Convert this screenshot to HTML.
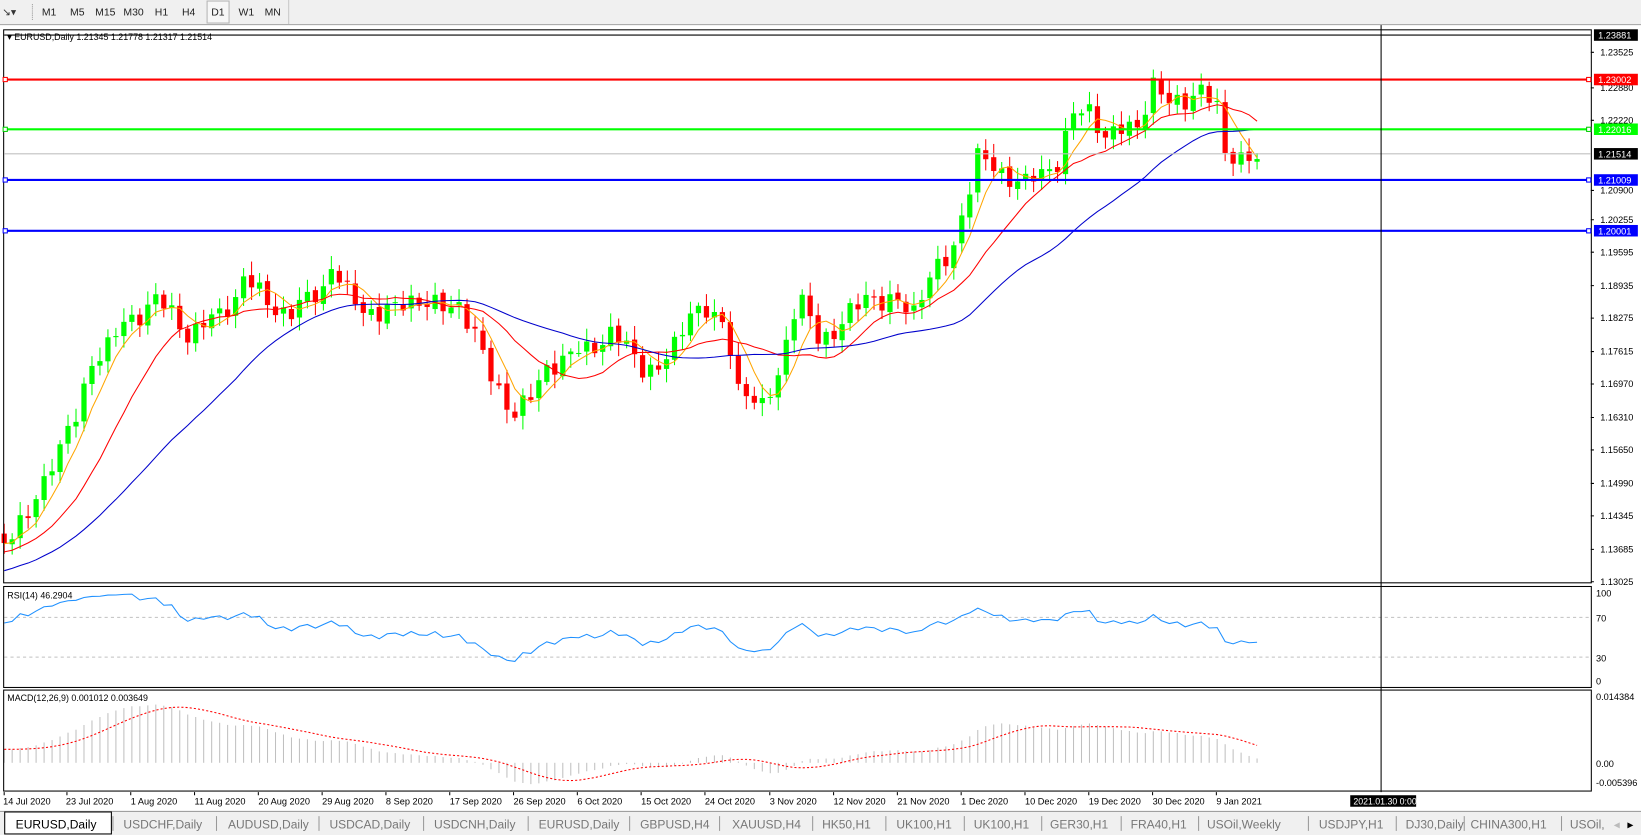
<!DOCTYPE html>
<html><head><meta charset="utf-8"><style>
html,body{margin:0;padding:0;background:#fff;overflow:hidden}
svg{display:block}
text{font-family:"Liberation Sans",sans-serif}
</style></head><body>
<svg id="s" width="1641" height="835" viewBox="0 0 1569 798" preserveAspectRatio="none" xmlns="http://www.w3.org/2000/svg">
<rect x="0" y="0" width="1569" height="798" fill="#fff"/>
<rect x="0" y="0" width="1569" height="23" fill="#f0f0f0"/>
<line x1="0" y1="23.5" x2="1569" y2="23.5" stroke="#a0a0a0"/>
<line x1="276" y1="0" x2="276" y2="23" stroke="#c8c8c8"/>
<text x="2" y="15" font-size="10" fill="#333">↘▾</text>
<line x1="31" y1="4" x2="31" y2="20" stroke="#999" stroke-dasharray="1,1"/>
<rect x="198" y="1" width="21" height="21" fill="#f7f7f7" stroke="#b5b5b5"/>
<g font-size="10" fill="#222">
<text x="40" y="15">M1</text><text x="67" y="15">M5</text><text x="91" y="15">M15</text><text x="118" y="15">M30</text>
<text x="148" y="15">H1</text><text x="174" y="15">H4</text><text x="202" y="15">D1</text><text x="228" y="15">W1</text><text x="253" y="15">MN</text>
</g>
<g id="g"></g>
<g fill="none" stroke="#000" stroke-width="1">
<rect x="3.5" y="28.5" width="1518" height="528.5"/>
<rect x="3.5" y="560.5" width="1518" height="96.5"/>
<rect x="3.5" y="659.5" width="1518" height="96.5"/>
</g>
<line x1="4" y1="147" x2="1521" y2="147" stroke="#c0c0c0" stroke-width="1"/>
<g stroke-width="2">
<line x1="4" y1="76" x2="1521" y2="76" stroke="#ff0000"/>
<line x1="4" y1="123.6" x2="1521" y2="123.6" stroke="#00ff00"/>
<line x1="4" y1="172" x2="1521" y2="172" stroke="#0000ff"/>
<line x1="4" y1="220.6" x2="1521" y2="220.6" stroke="#0000ff"/>
</g>
<g fill="#fff" stroke-width="1">
<rect x="3" y="74" width="4" height="4" stroke="#f00"/><rect x="1517" y="74" width="4" height="4" stroke="#f00"/>
<rect x="3" y="121.6" width="4" height="4" stroke="#0c0"/><rect x="1517" y="121.6" width="4" height="4" stroke="#0c0"/>
<rect x="3" y="170" width="4" height="4" stroke="#00f"/><rect x="1517" y="170" width="4" height="4" stroke="#00f"/>
<rect x="3" y="218.6" width="4" height="4" stroke="#00f"/><rect x="1517" y="218.6" width="4" height="4" stroke="#00f"/>
</g>
<line x1="4" y1="33.5" x2="1521" y2="33.5" stroke="#000"/>
<line x1="1320.5" y1="24" x2="1320.5" y2="757" stroke="#000"/>
<text x="7" y="38" font-size="8.5" fill="#000">▾ EURUSD,Daily  1.21345 1.21778 1.21317 1.21514</text>
<text x="7" y="572" font-size="8.5" fill="#000">RSI(14) 46.2904</text>
<text x="7" y="670" font-size="8.5" fill="#000">MACD(12,26,9) 0.001012 0.003649</text>
<g font-size="8.8" fill="#000">
<text x="1530" y="53">1.23525</text><text x="1530" y="87">1.22880</text><text x="1530" y="118">1.22220</text>
<text x="1530" y="185">1.20900</text><text x="1530" y="213">1.20255</text><text x="1530" y="244">1.19595</text>
<text x="1530" y="276">1.18935</text><text x="1530" y="307">1.18275</text><text x="1530" y="339">1.17615</text>
<text x="1530" y="370">1.16970</text><text x="1530" y="402">1.16310</text><text x="1530" y="433">1.15650</text>
<text x="1530" y="465">1.14990</text><text x="1530" y="496">1.14345</text><text x="1530" y="528">1.13685</text>
<text x="1530" y="559">1.13025</text>
<text x="1526" y="570">100</text><text x="1526" y="594">70</text><text x="1526" y="632">30</text><text x="1526" y="654">0</text>
<text x="1526" y="669">0.014384</text><text x="1526" y="733">0.00</text><text x="1526" y="751">-0.005396</text>
</g>
<g stroke="#000"><path d="M1521 50h3M1521 84h3M1521 115h3M1521 182h3M1521 210h3M1521 241h3M1521 273h3M1521 304h3M1521 336h3M1521 367h3M1521 399h3M1521 430h3M1521 462h3M1521 493h3M1521 525h3M1521 556h3"/></g>
<g font-size="8.8">
<rect x="1524" y="28" width="42" height="11" fill="#000"/><text x="1528" y="37" fill="#fff">1.23881</text>
<rect x="1524" y="70.5" width="42" height="11" fill="#ff0000"/><text x="1528" y="79.5" fill="#fff">1.23002</text>
<rect x="1524" y="118" width="42" height="11" fill="#00ff00"/><text x="1528" y="127" fill="#fff">1.22016</text>
<rect x="1524" y="141.5" width="42" height="11" fill="#000"/><text x="1528" y="150.5" fill="#fff">1.21514</text>
<rect x="1524" y="166.5" width="42" height="11" fill="#0000ff"/><text x="1528" y="175.5" fill="#fff">1.21009</text>
<rect x="1524" y="215" width="42" height="11" fill="#0000ff"/><text x="1528" y="224" fill="#fff">1.20001</text>
</g>
<g font-size="8.8" fill="#000">
<text x="3" y="769">14 Jul 2020</text><text x="63" y="769">23 Jul 2020</text><text x="125" y="769">1 Aug 2020</text>
<text x="186" y="769">11 Aug 2020</text><text x="247" y="769">20 Aug 2020</text><text x="308" y="769">29 Aug 2020</text>
<text x="369" y="769">8 Sep 2020</text><text x="430" y="769">17 Sep 2020</text><text x="491" y="769">26 Sep 2020</text>
<text x="552" y="769">6 Oct 2020</text><text x="613" y="769">15 Oct 2020</text><text x="674" y="769">24 Oct 2020</text>
<text x="736" y="769">3 Nov 2020</text><text x="797" y="769">12 Nov 2020</text><text x="858" y="769">21 Nov 2020</text>
<text x="919" y="769">1 Dec 2020</text><text x="980" y="769">10 Dec 2020</text><text x="1041" y="769">19 Dec 2020</text>
<text x="1102" y="769">30 Dec 2020</text><text x="1163" y="769">9 Jan 2021</text>
</g>
<g stroke="#000"><path d="M4 757v3M64 757v3M125 757v3M186 757v3M247 757v3M308 757v3M369 757v3M430 757v3M491 757v3M552 757v3M613 757v3M674 757v3M736 757v3M797 757v3M858 757v3M919 757v3M980 757v3M1041 757v3M1102 757v3M1163 757v3"/></g>
<rect x="1291" y="760" width="63" height="11" fill="#000"/><text x="1294" y="769" font-size="8.4" fill="#fff">2021.01.30 0:00</text>
<rect x="0" y="775" width="1569" height="23" fill="#f0f0f0"/>
<line x1="0" y1="775.5" x2="1569" y2="775.5" stroke="#a0a0a0"/>
<rect x="4.5" y="776" width="102" height="21" fill="#fff" stroke="#000"/>
<g font-size="11.5" fill="#777">
<text x="15" y="792" fill="#000">EURUSD,Daily</text>
<text x="118" y="792">USDCHF,Daily</text><text x="218" y="792">AUDUSD,Daily</text><text x="315" y="792">USDCAD,Daily</text>
<text x="415" y="792">USDCNH,Daily</text><text x="515" y="792">EURUSD,Daily</text><text x="612" y="792">GBPUSD,H4</text>
<text x="700" y="792">XAUUSD,H4</text><text x="786" y="792">HK50,H1</text><text x="857" y="792">UK100,H1</text>
<text x="931" y="792">UK100,H1</text><text x="1004" y="792">GER30,H1</text><text x="1081" y="792">FRA40,H1</text>
<text x="1154" y="792">USOil,Weekly</text><text x="1261" y="792">USDJPY,H1</text><text x="1344" y="792">DJ30,Daily</text>
<text x="1406" y="792">CHINA300,H1</text><text x="1501" y="792">USOil,</text><text x="1543" y="792" fill="#bbb">◂</text><text x="1556" y="792" fill="#000">▸</text>
</g>
<g stroke="#999"><path d="M108 780v14M207 780v14M305 780v14M405 780v14M505 780v14M602 780v14M688 780v14M777 780v14M847 780v14M922 780v14M996 780v14M1072 780v14M1146 780v14M1251 780v14M1335 780v14M1400 780v14M1493 780v14"/></g>
</svg>
<script>
(function(){
var NS="http://www.w3.org/2000/svg",g=document.getElementById("g");
function el(t,a){var e=document.createElementNS(NS,t);for(var k in a)e.setAttribute(k,a[k]);g.appendChild(e);return e;}
var kp=[[0,515],[3,495],[6,440],[9,400],[11,345],[13,330],[15,310],[17,300],[19,285],[21,300],[23,320],[25,310],[27,300],[29,285],[30,265],[32,280],[34,295],[36,300],[38,285],[40,275],[41,255],[43,280],[45,295],[47,300],[49,295],[51,285],[53,290],[55,295],[57,290],[59,320],[61,360],[63,385],[64,395],[66,380],[68,350],[70,345],[72,335],[74,330],[76,320],[78,330],[80,350],[82,355],[84,330],[86,295],[88,300],[90,310],[91,330],[92,370],[94,385],[95,390],[97,355],[99,300],[100,290],[102,320],[104,320],[106,300],[108,280],[110,290],[112,290],[114,295],[116,265],[118,250],[119,235],[120,205],[122,150],[124,160],[126,170],[128,175],[130,165],[132,155],[134,110],[136,105],[138,130],[140,125],[142,120],[144,80],[146,100],[148,95],[150,85],[152,105],[153,145],[155,150],[157,152]];
var N=158,PRE=60,cl=[];
for(var j=-PRE;j<0;j++){cl.push(640+(j+PRE)*(-125/PRE)+Math.sin(j*1.7)*6);}
for(var i=0;i<N;i++){var a,b;for(var k=0;k<kp.length-1;k++){if(kp[k][0]<=i&&kp[k+1][0]>=i){a=kp[k];b=kp[k+1];break;}}
var t=(b[0]==a[0])?0:(i-a[0])/(b[0]-a[0]);var y=a[1]+(b[1]-a[1])*t;
if(i<N-1)y+=Math.sin(i*2.3)*7+Math.cos(i*1.1)*4;cl.push(y);}
var T=cl.length;function X(i){return 4+7.63*(i-PRE);}
function P(y){return 1.13025+(555.5-y)/4808;}
for(var n=PRE;n<T;n++){var o=cl[n-1]+Math.sin(n*3.1)*2,c=cl[n];var h=Math.min(o,c)-(3+Math.abs(Math.sin(n*5.3))*10),l=Math.max(o,c)+(3+Math.abs(Math.cos(n*4.7))*10);
var x=X(n),bull=c<o,col=bull?"#00ff00":"#ff0000";
if(l>557)l=557;
el("line",{x1:x,y1:h,x2:x,y2:l,stroke:col,"stroke-width":1});
var top=Math.min(o,c),ht=Math.max(1,Math.abs(o-c));el("rect",{x:x-2.5,y:top,width:5,height:ht,fill:col});}
function sma(p){var r=[];for(var n=0;n<T;n++){if(n<p-1){r.push(null);continue;}var s=0;for(var k=0;k<p;k++)s+=cl[n-k];r.push(s/p);}return r;}
function line(arr,col,lo,hi,fn){var d="";for(var n=PRE;n<T;n++){if(arr[n]==null)continue;var y=fn?fn(arr[n]):arr[n];d+=(d?"L":"M")+X(n).toFixed(1)+" "+y.toFixed(1);}return d;}
[[5,"#ffa500"],[13,"#ff0000"],[30,"#0000cc"]].forEach(function(m){var d=line(sma(m[0]));
var e=el("path",{d:d,fill:"none",stroke:m[1],"stroke-width":1});e.setAttribute("clip-path","url(#cm)");});
var pr=cl.map(P),ag=0,al=0,rsi=[];
for(var n=1;n<T;n++){var ch=pr[n]-pr[n-1],gn=Math.max(ch,0),ls=Math.max(-ch,0);
if(n<=14){ag+=gn/14;al+=ls/14;}else{ag=(ag*13+gn)/14;al=(al*13+ls)/14;}
rsi[n]=al==0?100:100-100/(1+ag/al);}
el("line",{x1:4,y1:590,x2:1521,y2:590,stroke:"#c0c0c0","stroke-dasharray":"3,3"});
el("line",{x1:4,y1:628,x2:1521,y2:628,stroke:"#c0c0c0","stroke-dasharray":"3,3"});
el("path",{d:line(rsi,0,0,0,function(v){return 656.5-v*0.95;}),fill:"none",stroke:"#1e90ff","stroke-width":1});
function ema(arr,p){var r=[],k=2/(p+1);r[0]=arr[0];for(var n=1;n<arr.length;n++)r[n]=arr[n]*k+r[n-1]*(1-k);return r;}
var e12=ema(pr,12),e26=ema(pr,26),mc=[];for(var n=0;n<T;n++)mc[n]=e12[n]-e26[n];
var sg=[];for(var n=0;n<T;n++){if(n<8){sg.push(mc[n]);continue;}var s=0;for(var k=0;k<9;k++)s+=mc[n-k];sg.push(s/9);}
function my(v){var y=729-v*4380;return Math.max(661,Math.min(755,y));}
for(var n=PRE;n<T;n++)el("line",{x1:X(n),y1:729,x2:X(n),y2:my(mc[n]),stroke:"#c0c0c0","stroke-width":1});
el("path",{d:line(sg,0,0,0,my),fill:"none",stroke:"#ff0000","stroke-width":1,"stroke-dasharray":"2,2"});
var cp=document.createElementNS(NS,"clipPath");cp.setAttribute("id","cm");var r=document.createElementNS(NS,"rect");
r.setAttribute("x",4);r.setAttribute("y",29);r.setAttribute("width",1517);r.setAttribute("height",528);cp.appendChild(r);g.appendChild(cp);
})();
</script>
</body></html>
